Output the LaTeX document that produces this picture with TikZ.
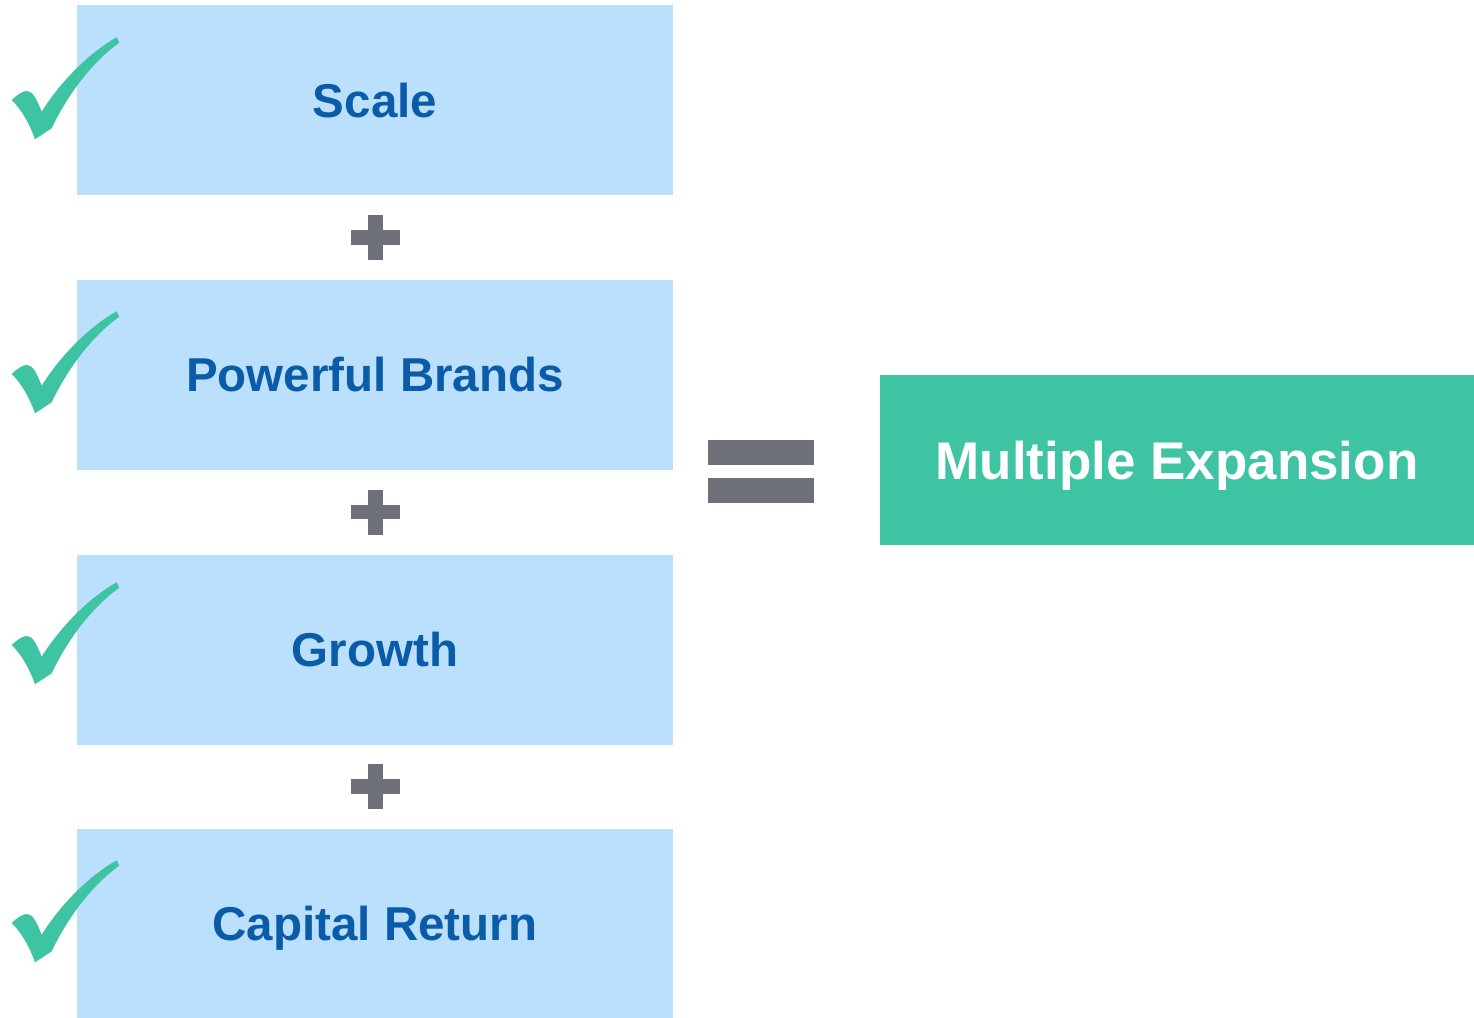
\documentclass[tikz,border=0pt]{standalone}
\usepackage{fontspec}
\setmainfont{Liberation Sans}
\definecolor{boxblue}{HTML}{BAE0FD}
\definecolor{txtblue}{HTML}{0A5BA8}
\definecolor{tealg}{HTML}{3FC4A3}
\definecolor{opgray}{HTML}{6D7079}
\tikzset{
  factor/.style={fill=boxblue, draw=none, minimum width=596pt, minimum height=190pt, inner sep=0pt,
    text depth=0pt, text=txtblue, font=\fontsize{47.5}{57}\selectfont\bfseries},
  result/.style={fill=tealg, draw=none, minimum width=594pt, minimum height=170pt, inner sep=0pt,
    text depth=0pt, text=white, font=\fontsize{53}{64}\selectfont\bfseries},
  opfill/.style={fill=opgray, draw=none},
  checkmark/.pic={
    \fill[tealg] (11.7,100) .. controls (18,94) and (23,91) .. (27,91)
      .. controls (33,91) and (37,100) .. (41.7,111.7)
      .. controls (60,82) and (90,52) .. (116.7,37.3) -- (119.3,42.7)
      .. controls (95,60) and (70,90) .. (51.7,128.3) -- (35,139.3)
      .. controls (30,125) and (22,110) .. (11.7,100) -- cycle;
  }
}
\begin{document}
\begin{tikzpicture}[x=1pt,y=-1pt]
\useasboundingbox (0,0) rectangle (1474,1017);
\node[factor] (scale) at (375,100) {Scale};
\node[factor] (brands) at (375,374.5) {Powerful Brands};
\node[factor] (growth) at (375,649.5) {Growth};
\node[factor] (capital) at (375,923.5) {Capital Return};
\node[result] (mult) at (1177,460) {Multiple Expansion};
% checkmarks
\pic at (0,0) {checkmark};
\pic at (0,274) {checkmark};
\pic at (0,545) {checkmark};
\pic at (0,823) {checkmark};
% plus signs
\foreach \cy in {237.5,512,786.5}{
  \fill[opfill] (367.5,\cy-22.5) rectangle (382.5,\cy+22.5);
  \fill[opfill] (350.5,\cy-7.5) rectangle (399.5,\cy+7);
}
% equals sign
\fill[opfill] (707.5,439.5) rectangle (813.5,464.5);
\fill[opfill] (707.5,477.5) rectangle (813.5,502.5);
\end{tikzpicture}
\end{document}
